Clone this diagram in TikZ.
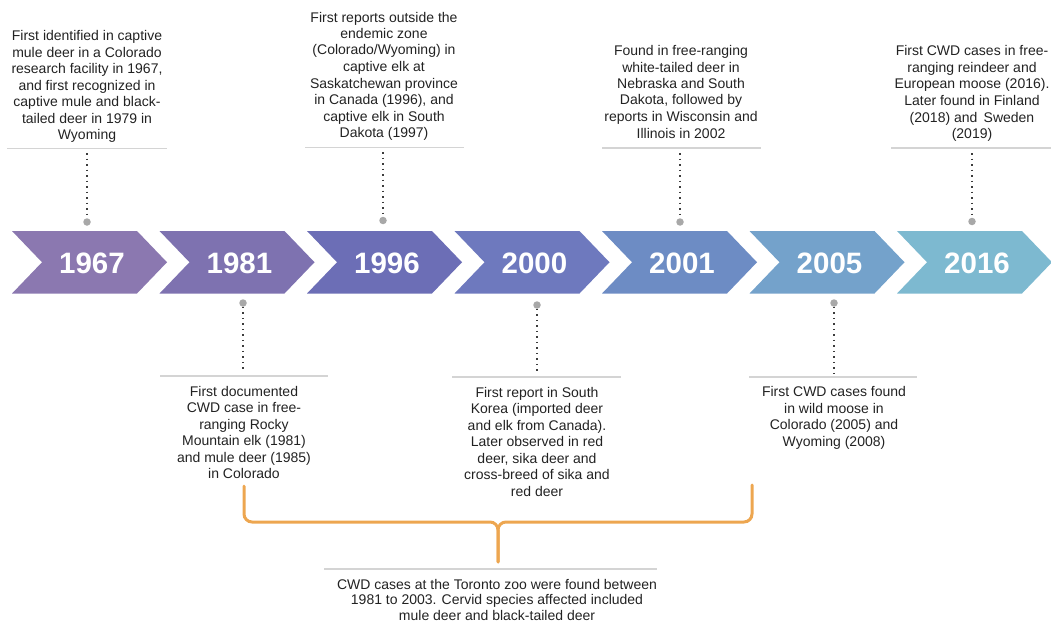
\documentclass[tikz,border=0pt]{standalone}
\usepackage{fontspec}
\setmainfont{Liberation Sans}
\definecolor{c1}{HTML}{8B78B0}
\definecolor{c2}{HTML}{7E72B0}
\definecolor{c3}{HTML}{6C6EB6}
\definecolor{c4}{HTML}{6E79BE}
\definecolor{c5}{HTML}{6D8CC4}
\definecolor{c6}{HTML}{74A2CB}
\definecolor{c7}{HTML}{7DB9D0}
\definecolor{textgray}{HTML}{222222}
\definecolor{sepgray}{HTML}{D4D4D4}
\definecolor{dotgray}{HTML}{3C3C3C}
\definecolor{pingray}{HTML}{A8A8A8}
\definecolor{braceorange}{HTML}{EDA650}
\begin{document}
\begin{tikzpicture}[x=1pt,y=-1pt,
  year/.style={text=white, font=\fontsize{29.5}{30}\selectfont\bfseries, anchor=base, inner sep=0pt},
  desc/.style={align=center, font=\fontsize{14}{16.5}\selectfont, text=textgray, inner sep=0pt, anchor=base},
  sepline/.style={draw=sepgray, line width=1.2pt},
  leader/.style={draw=dotgray, line width=1.5pt, dash pattern=on 1.5pt off 4pt},
  pin/.style={circle, fill=pingray, inner sep=0pt, minimum size=7.5pt},
  bracestyle/.style={draw=braceorange, line width=3pt, line cap=round, rounded corners=8pt}]
\useasboundingbox (0,0) rectangle (1051,623);
\clip (0,0) rectangle (1051,623);

% chevrons
\foreach \i/\c/\yr in {0/c1/1967,1/c2/1981,2/c3/1996,3/c4/2000,4/c5/2001,5/c6/2005,6/c7/2016}{
  \pgfmathsetmacro\xo{12+147.5*\i}
  \fill[\c] (\xo,231) -- ++(125,0) -- ++(30,31.25) -- ++(-30,31.25) -- ++(-125,0) -- ++(30,-31.25) -- cycle;
  \node[year] (y\yr) at (\xo+80,273) {\yr};
}

% top descriptions (anchor = baseline of last line)
\node[desc] (d1967) at (87,139.5) {First identified in captive\\mule deer in a Colorado\\research facility in 1967,\\and first recognized in\\captive mule and black-\\tailed deer in 1979 in\\Wyoming};
\node[desc] (d1996) at (384,137.5) {First reports outside the\\endemic zone\\(Colorado/Wyoming) in\\captive elk at\\Saskatchewan province\\in Canada (1996), and\\captive elk in South\\Dakota (1997)};
\node[desc] (d2001) at (681,138) {Found in free-ranging\\white-tailed deer in\\Nebraska and South\\Dakota, followed by\\reports in Wisconsin and\\Illinois in 2002};
\node[desc] (d2016) at (972,138.5) {First CWD cases in free-\\ranging reindeer and\\European moose (2016).\\Later found in Finland\\(2018) and\, Sweden\\(2019)};

\draw[sepline] (7,148.5) -- (167,148.5);
\draw[sepline] (305,147.5) -- (464,147.5);
\draw[sepline] (602,148) -- (761,148);
\draw[sepline] (891,148) -- (1051,148);

\coordinate (t1) at (87,153);
\coordinate (t2) at (383,152);
\coordinate (t3) at (680,153);
\coordinate (t4) at (972,153);
\node[pin] (p1) at (87,222) {};
\node[pin] (p2) at (383,220.5) {};
\node[pin] (p3) at (680,222) {};
\node[pin] (p4) at (972,221.5) {};
\draw[leader] (t1) -- (p1.north);
\draw[leader] (t2) -- (p2.north);
\draw[leader] (t3) -- (p3.north);
\draw[leader] (t4) -- (p4.north);

% bottom descriptions
\node[desc] (d1981) at (244,478.5) {First documented\\CWD case in free-\\ranging Rocky\\Mountain elk (1981)\\and mule deer (1985)\\in Colorado};
\node[desc] (d2000) at (537,496) {First report in South\\Korea (imported deer\\and elk from Canada).\\Later observed in red\\deer, sika deer and\\cross-breed of sika and\\red deer};
\node[desc] (d2005) at (834,446) {First CWD cases found\\in wild moose in\\Colorado (2005) and\\Wyoming (2008)};

\draw[sepline] (160,376) -- (328,376);
\draw[sepline] (452,377) -- (621,377);
\draw[sepline] (749,377) -- (917,377);

\coordinate (b1) at (243,372);
\coordinate (b2) at (537,373);
\coordinate (b3) at (834,373);
\node[pin] (q1) at (243,303) {};
\node[pin] (q2) at (537,305) {};
\node[pin] (q3) at (834,303) {};
\draw[leader] (q1.south) -- (b1);
\draw[leader] (q2.south) -- (b2);
\draw[leader] (q3.south) -- (b3);

% brace
\coordinate (bl) at (244,486);
\coordinate (br) at (752,485);
\coordinate (bm) at (498,522);
\coordinate (btip) at (498,562);
\draw[bracestyle] (bl) -- (bl |- bm) -- (bm) -- (btip);
\draw[bracestyle] (br) -- (br |- bm) -- (bm) -- (btip);

\draw[sepline] (324,569) -- (657,569);
\node[desc, font=\fontsize{14}{15.7}\selectfont] (dzoo) at (497,620.5) {CWD cases at the Toronto zoo were found between\\1981 to 2003. Cervid species affected included\\mule deer and black-tailed deer};
\end{tikzpicture}
\end{document}
